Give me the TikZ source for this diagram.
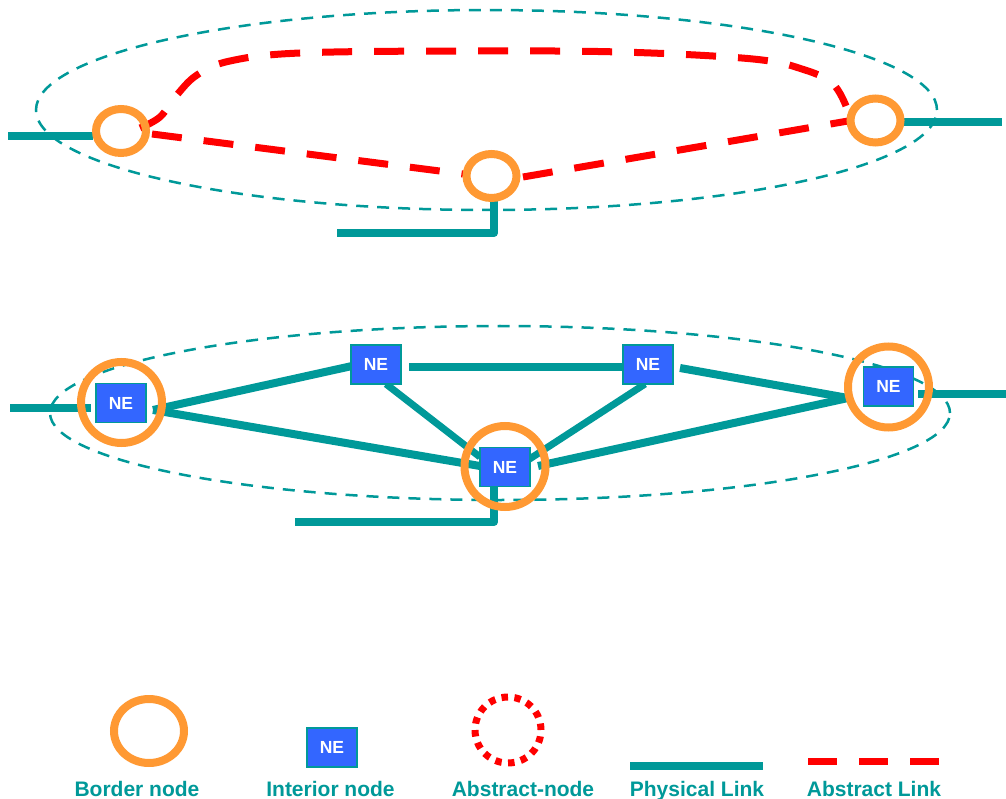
\documentclass[tikz,border=0pt]{standalone}
\usepackage{fontspec}
\setmainfont{Liberation Sans}
\usetikzlibrary{shapes.geometric}
\definecolor{teal1}{HTML}{009999}
\definecolor{orng}{HTML}{FF9933}
\definecolor{neblue}{HTML}{3366FF}
\definecolor{red1}{HTML}{FF0000}
\tikzset{
 phys/.style={draw=teal1, line width=8pt, line join=round},
 abst/.style={draw=red1, line width=7pt, dash pattern=on 30pt off 22pt},
 domainline/.style={draw=teal1, line width=2.5pt, dash pattern=on 12pt off 9pt},
 bordersmall/.style={ellipse, draw=orng, line width=8pt, minimum width=50pt, minimum height=44pt, inner sep=0pt},
 borderbig/.style={circle, draw=orng, line width=8pt, minimum size=81pt, inner sep=0pt},
 nebox/.style={rectangle, draw=teal1, line width=1.2pt, fill=neblue, minimum width=50pt, minimum height=39pt, inner sep=0pt, text=white, font=\fontsize{17.5}{18}\selectfont\bfseries},
 lbl/.style={anchor=base, text=teal1, font=\fontsize{21}{24}\selectfont\bfseries, inner sep=0pt},
}
\begin{document}
\begin{tikzpicture}[x=1pt, y=-1pt]
\fill[white] (0,0) rectangle (1006,799);
\useasboundingbox (0,0) rectangle (1006,799);

% ---------- top: abstracted domain ----------
\draw[domainline] (486.5,110) ellipse [x radius=450.5pt, y radius=100pt];
\coordinate (tl1) at (8,136);   \coordinate (tl2) at (93,136);
\coordinate (tr1) at (902,122); \coordinate (tr2) at (1002,122);
\coordinate (tb1) at (494,200); \coordinate (tb2) at (494,233); \coordinate (tb3) at (337,233);
\draw[phys] (tl1) -- (tl2);
\draw[phys] (tr1) -- (tr2);
\draw[phys] (tb1) -- (tb2) -- (tb3);
\coordinate (ra1) at (152,134); \coordinate (ra2) at (463,174);
\coordinate (rb1) at (523,177); \coordinate (rb2) at (848,121);
\draw[abst] (ra1) -- (ra2);
\draw[abst] (rb1) -- (rb2);
\draw[abst] plot[smooth, tension=0.6] coordinates {(140,128) (160,117) (176,96) (197,75) (230,61) (300,53) (460,51) (620,52) (753,59) (805,70) (833,84) (846,106)};
\node[bordersmall] (ta) at (121,131) {};
\node[bordersmall] (tm) at (491.5,176) {};
\node[bordersmall] (tr) at (875.5,120.5) {};

% ---------- bottom: physical domain ----------
\draw[domainline] (500,413) ellipse [x radius=450pt, y radius=87pt];
\coordinate (hubL) at (153,410);
\coordinate (hubR) at (848,398);
\coordinate (e1) at (352,366);
\coordinate (e2) at (480,466);
\coordinate (e3a) at (386,384); \coordinate (e3b) at (480,457);
\coordinate (e4a) at (409,367); \coordinate (e4b) at (624,367);
\coordinate (e5a) at (645,384); \coordinate (e5b) at (528,460);
\coordinate (e6a) at (680,368);
\coordinate (e7a) at (538,466);
\coordinate (bl1) at (10,408);  \coordinate (bl2) at (91,408);
\coordinate (br1) at (918,394); \coordinate (br2) at (1006,394);
\coordinate (bb1) at (494,487); \coordinate (bb2) at (494,522); \coordinate (bb3) at (295,522);
\draw[phys] (hubL) -- (e1);
\draw[phys] (hubL) -- (e2);
\draw[phys, line width=7pt] (e3a) -- (e3b);
\draw[phys] (e4a) -- (e4b);
\draw[phys, line width=7pt] (e5a) -- (e5b);
\draw[phys] (e6a) -- (hubR);
\draw[phys] (e7a) -- (hubR);
\draw[phys] (bl1) -- (bl2);
\draw[phys] (br1) -- (br2);
\draw[phys] (bb1) -- (bb2) -- (bb3);
\node[borderbig] (cl) at (121.5,402.5) {};
\node[borderbig] (cm) at (505,466.5) {};
\node[borderbig] (cr) at (888.5,387) {};
\node[nebox] (n1) at (121,403) {NE};
\node[nebox] (n2) at (376,364.5) {NE};
\node[nebox] (n3) at (648,364.5) {NE};
\node[nebox] (n4) at (505,467) {NE};
\node[nebox] (n5) at (888.5,386.5) {NE};

% ---------- legend ----------
\node[ellipse, draw=orng, line width=8pt, minimum width=70pt, minimum height=64pt, inner sep=0pt] (lg1) at (149,731) {};
\node[nebox] (lg2) at (332,747.5) {NE};
\node[circle, draw=red1, line width=7pt, dash pattern=on 6.5pt off 6.46pt, minimum size=66pt, inner sep=0pt] (lg3) at (508,730) {};
\coordinate (lp1) at (630,766); \coordinate (lp2) at (763,766);
\draw[phys] (lp1) -- (lp2);
\coordinate (la1) at (808,761); \coordinate (la2) at (941,761);
\draw[draw=red1, line width=7pt, dash pattern=on 29pt off 22pt] (la1) -- (la2);
\node[lbl] (t1) at (137,796) {Border node};
\node[lbl] (t2) at (330.5,796) {Interior node};
\node[lbl] (t3) at (523,796) {Abstract-node};
\node[lbl] (t4) at (697,796) {Physical Link};
\node[lbl] (t5) at (874,796) {Abstract Link};
\end{tikzpicture}
\end{document}
